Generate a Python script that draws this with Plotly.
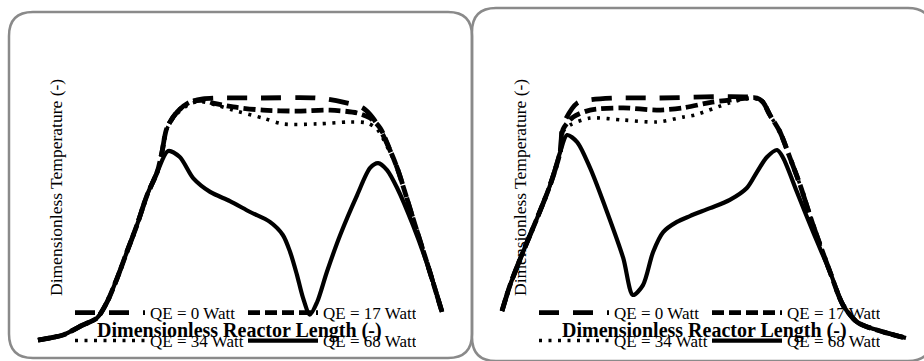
import plotly.graph_objects as go

W, H = 924, 361

# ---------------- data (dimensionless) ----------------
# Left panel
L0_x = [0, .062, .111, .146, .171, .196, .220, .245, .270, .295, .307, .319, .344, .376, .408, .45, .55, .691, .755, .804, .829, .854, .889, .928, .970, 1.0]
L0_y = [0, .021, .062, .091, .157, .256, .364, .475, .599, .694, .777, .876, .942, .983, .996, 1.0, 1.0, 1.0, .983, .959, .917, .847, .711, .504, .281, .116]

L17_x = [0, .062, .111, .146, .171, .196, .220, .245, .270, .295, .307, .319, .344, .376, .408, .433, .483, .557, .641, .723, .790, .822, .847, .870, .889, .928, .970, 1.0]
L17_y = [0, .021, .062, .091, .157, .256, .364, .475, .599, .694, .777, .876, .942, .983, .990, .979, .963, .950, .946, .950, .938, .917, .876, .790, .711, .504, .281, .116]

L34_x = [0, .062, .111, .146, .171, .196, .220, .245, .270, .295, .307, .319, .344, .376, .401, .443, .483, .557, .606, .691, .772, .814, .839, .864, .889, .928, .970, 1.0]
L34_y = [0, .021, .062, .091, .157, .256, .364, .475, .599, .694, .777, .872, .935, .975, .985, .970, .950, .917, .893, .893, .901, .897, .872, .800, .711, .504, .281, .116]

L68_x = [0, .062, .111, .146, .171, .196, .220, .245, .270, .295, .322, .351, .384, .426, .475, .525, .574, .606, .624, .641, .656, .673, .691, .715, .748, .790, .822, .842, .864, .889, .928, .970, 1.0]
L68_y = [0, .021, .062, .091, .157, .256, .364, .475, .599, .694, .781, .756, .669, .612, .574, .529, .488, .434, .364, .269, .174, .105, .157, .281, .434, .599, .711, .731, .702, .628, .475, .281, .116]

# Right panel
R0_x = [0, .020, .052, .087, .119, .144, .151, .186, .218, .285, .384, .631, .646, .663, .688, .713, .738, .770, .812, .844, .879, .928, 1.0]
R0_y = [.12, .227, .364, .504, .640, .777, .888, .979, .992, 1.0, 1.0, 1.0, .983, .930, .860, .752, .640, .475, .281, .145, .074, .041, .008]

R17_x = [0, .020, .052, .087, .119, .144, .151, .176, .218, .300, .384, .448, .520, .589, .631, .646, .663, .688, .713, .738, .770, .812, .844, .879, .928, 1.0]
R17_y = [.12, .227, .364, .504, .640, .777, .870, .921, .950, .959, .950, .959, .983, .996, 1.0, .983, .930, .860, .752, .640, .475, .281, .145, .074, .041, .008]

R34_x = [0, .020, .052, .087, .119, .144, .151, .168, .218, .300, .384, .448, .478, .562, .619, .646, .663, .688, .713, .738, .770, .812, .844, .879, .928, 1.0]
R34_y = [.12, .227, .364, .504, .640, .777, .860, .888, .917, .909, .901, .921, .930, .979, 1.0, .983, .930, .860, .752, .640, .475, .281, .145, .074, .041, .008]

R68_x = [0, .020, .052, .087, .119, .144, .161, .186, .218, .260, .300, .324, .349, .374, .399, .433, .465, .515, .564, .606, .631, .656, .681, .696, .730, .770, .812, .844, .879, .928, 1.0]
R68_y = [.12, .227, .364, .504, .640, .777, .847, .818, .711, .529, .339, .186, .227, .364, .446, .488, .512, .545, .579, .628, .694, .756, .785, .752, .612, .446, .281, .145, .074, .041, .008]

names = ["QE = 0 Watt", "QE = 17 Watt", "QE = 34 Watt", "QE = 68 Watt"]
x_title = "Dimensionless Reactor Length (-)"
y_title = "Dimensionless Temperature (-)"

# ---------------- styles ----------------
styles = [
    dict(width=4.8, dash="20px,14px"),
    dict(width=4.8, dash="12px,5px"),
    dict(width=3.6, dash="3px,6.5px"),
    dict(width=4.2, dash="solid"),
]

def px_x(p):
    return p / W

def px_y(p):
    return 1 - p / H

fig = go.Figure()

left = [(L0_x, L0_y), (L17_x, L17_y), (L34_x, L34_y), (L68_x, L68_y)]
right = [(R0_x, R0_y), (R17_x, R17_y), (R34_x, R34_y), (R68_x, R68_y)]

for panel, (series, xa, ya, lg_a, lg_b) in enumerate([
        (left, "x", "y", "legend", "legend2"),
        (right, "x2", "y2", "legend3", "legend4")]):
    for i, (xs, ys) in enumerate(series):
        fig.add_trace(go.Scatter(
            x=xs, y=ys, mode="lines", name=names[i],
            line=dict(color="black", shape="spline", smoothing=0.8, **styles[i]),
            xaxis=xa, yaxis=ya,
            legend=lg_a if i < 2 else lg_b,
            showlegend=True,
        ))

xr = [-0.0198, 1.0198]
yr = [-0.0413, 1.0744]
ydom = [px_y(350), px_y(80)]
ax_common = dict(showgrid=False, zeroline=False, showticklabels=False,
                 showline=False, ticks="", fixedrange=True)

fig.update_layout(
    width=W, height=H,
    margin=dict(l=0, r=0, t=0, b=0),
    paper_bgcolor="white", plot_bgcolor="rgba(0,0,0,0)",
    xaxis=dict(domain=[px_x(30), px_x(450)], range=xr, anchor="y", **ax_common),
    yaxis=dict(domain=ydom, range=yr, anchor="x", **ax_common),
    xaxis2=dict(domain=[px_x(494), px_x(914)], range=xr, anchor="y2", **ax_common),
    yaxis2=dict(domain=ydom, range=yr, anchor="x2", **ax_common),
)

leg_common = dict(orientation="h", xanchor="left", yanchor="middle",
                  font=dict(family="Liberation Serif", size=17, color="black"),
                  bgcolor="rgba(0,0,0,0)", borderwidth=0,
                  itemwidth=70, entrywidth=88, entrywidthmode="pixels")
fig.update_layout(
    legend=dict(x=px_x(70), y=px_y(313), **leg_common),
    legend2=dict(x=px_x(70), y=px_y(341), **leg_common),
    legend3=dict(x=px_x(534), y=px_y(313), **leg_common),
    legend4=dict(x=px_x(534), y=px_y(341), **leg_common),
)

# axis titles
for cx, xc in [(56, 240), (520, 704)]:
    fig.add_annotation(text=y_title, x=px_x(cx), y=px_y(188), xref="paper", yref="paper",
                       textangle=-90, showarrow=False, xanchor="center", yanchor="middle",
                       font=dict(family="Liberation Serif", size=17.5, color="black"))
    fig.add_annotation(text="<b>" + x_title + "</b>", x=px_x(xc), y=px_y(330),
                       xref="paper", yref="paper", showarrow=False,
                       xanchor="center", yanchor="middle",
                       font=dict(family="Liberation Serif", size=20, color="black"))

# rounded panel borders
def rounded(x0, y0, x1, y1, r):
    P = lambda a, b: f"{px_x(a):.5f},{px_y(b):.5f}"
    return ("M" + P(x0 + r, y0) + " L" + P(x1 - r, y0) + " Q" + P(x1, y0) + " " + P(x1, y0 + r) +
            " L" + P(x1, y1 - r) + " Q" + P(x1, y1) + " " + P(x1 - r, y1) +
            " L" + P(x0 + r, y1) + " Q" + P(x0, y1) + " " + P(x0, y1 - r) +
            " L" + P(x0, y0 + r) + " Q" + P(x0, y0) + " " + P(x0 + r, y0) + " Z")

for box in [(9, 12, 472, 358), (472, 8, 932, 361)]:
    fig.add_shape(type="path", path=rounded(*box, 24), xref="paper", yref="paper",
                  line=dict(color="#8a8a8a", width=2.5), layer="below")

fig.write_html("out.html")
